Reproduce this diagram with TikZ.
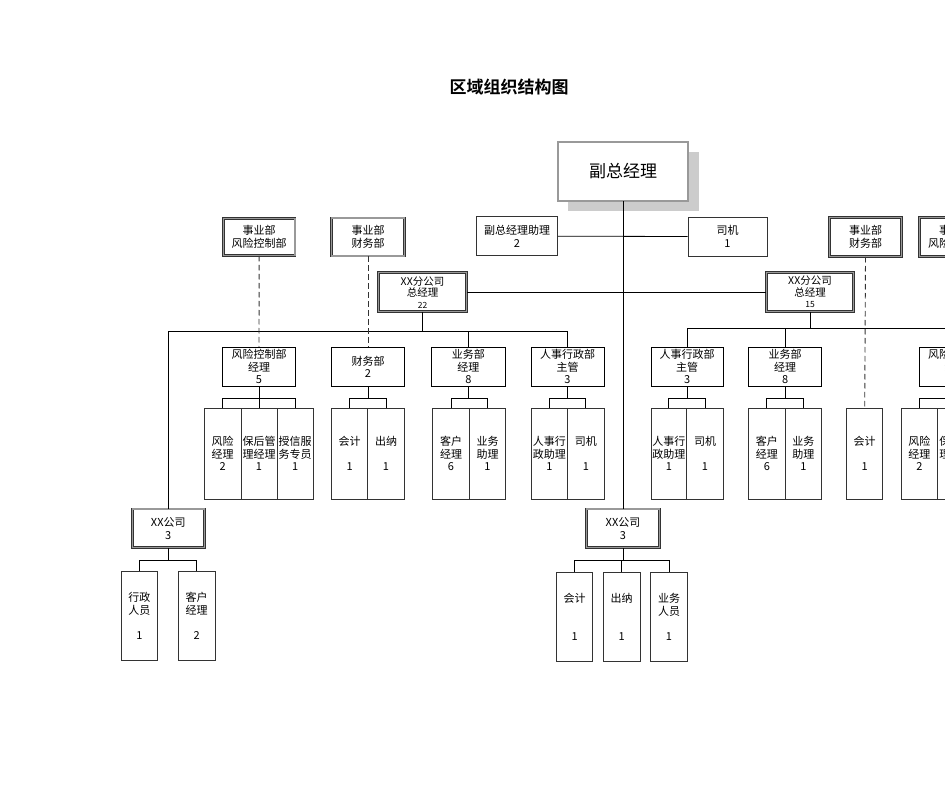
\documentclass[tikz,border=0pt]{standalone}
\usepackage{fontspec}
\setmainfont{Noto Sans CJK SC}
\newfontfamily\titlefont{Noto Sans CJK SC Bold}
\newcommand\mybox[7]{\node[#1, minimum width={#5-#3}, minimum height={#6-#4}] (#2) at ({(#3+#5)/2},{(#4+#6)/2}) {#7};}
\newcommand\mybracket[5]{% parent, first child, last child, middle child (or none), y
  \draw[conn] (#1.south) -- (#1.south |- 0,#5);
  \draw[conn] (#2.north) |- (#3.north |- 0,#5) -- (#3.north);
  \ifx\relax#4\relax\else\draw[conn] (#4.north) -- (#4.north |- 0,#5);\fi}
\tikzset{
 base/.style={fill=white, inner sep=0pt, align=center, font=\fontsize{11}{12.5}\selectfont},
 dbox/.style={base, draw=black!80, double=black!40, double distance=1.5pt, line width=0.6pt},
 sbox/.style={base, draw=black, line width=0.7pt},
 tbox/.style={base, draw=black!80, line width=1pt},
 abox/.style={base, draw=black!80, line width=0.9pt},
 conn/.style={draw=black, line width=0.8pt},
 dconn/.style={draw=black!80, line width=0.9pt, dash pattern=on 5.5pt off 3.5pt},
}
\begin{document}
\begin{tikzpicture}[x=1pt,y=-1pt]
\useasboundingbox (0,0) rectangle (945,794);
\clip (0,0) rectangle (945,794);
\fill[white] (0,0) rectangle (945,794);
% title
\node[font=\titlefont\fontsize{17}{20}\selectfont] (title) at (509,87) {区域组织结构图};
% main
\fill[black!20] (567.7,151.7) rectangle (699.3,210.7);
\mybox{dbox,font=\fontsize{17}{20}\selectfont}{vp}{558}{142}{688}{201}{副总经理}
\mybox{abox}{asst}{476.7}{216.7}{557.3}{255.7}{副总经理助理\\2}
\mybox{abox}{drv}{688}{217}{767}{256}{司机\\1}
% business dept boxes
\mybox{dbox}{syL1}{223.3}{218.3}{295}{255.7}{事业部\\风险控制部}
\mybox{dbox}{syL2}{331.7}{218}{404.3}{256}{事业部\\财务部}
\mybox{dbox}{syR1}{829.3}{217.3}{901.7}{256.7}{事业部\\财务部}
\mybox{dbox}{syR2}{919.3}{217.3}{992}{256.7}{事业部\\风险控制部}
% branches
\mybox{dbox,font=\fontsize{10.5}{11.5}\selectfont}{brL}{378.3}{272.7}{466.7}{311.7}{XX分公司\\总经理\\{\fontsize{8.5}{10}\selectfont 22}}
\mybox{dbox,font=\fontsize{10.5}{11.5}\selectfont}{brR}{766.7}{272.7}{853.3}{311.7}{XX分公司\\总经理\\{\fontsize{8.5}{10}\selectfont 15}}
% level 3
\mybox{sbox}{riskL}{222.7}{347.3}{295.3}{386}{风险控制部\\经理\\5}
\mybox{sbox}{finL}{331.7}{347.3}{404.3}{386}{财务部\\2}
\mybox{sbox}{salesL}{431.7}{347.3}{505}{386}{业务部\\经理\\8}
\mybox{sbox}{hrL}{531}{347.3}{604}{386}{人事行政部\\主管\\3}
\mybox{sbox}{hrR}{651}{347.3}{723.3}{386}{人事行政部\\主管\\3}
\mybox{sbox}{salesR}{748.7}{347.3}{821.7}{386}{业务部\\经理\\8}
\mybox{sbox}{riskR}{919.3}{347.3}{992}{386}{风险控制部\\经理\\5}
% level 4
\mybox{tbox}{a1}{204.3}{408.3}{241}{499.3}{风险\\经理\\2}
\mybox{tbox}{a2}{241}{408.3}{277}{499.3}{保后管\\理经理\\1}
\mybox{tbox}{a3}{277}{408.3}{313.3}{499.3}{授信服\\务专员\\1}
\mybox{tbox}{b1}{331.7}{408.3}{367.7}{499.3}{会计\\\mbox{}\\1}
\mybox{tbox}{b2}{367.7}{408.3}{404.3}{499.3}{出纳\\\mbox{}\\1}
\mybox{tbox}{c1}{432.7}{408.3}{469.3}{499.3}{客户\\经理\\6}
\mybox{tbox}{c2}{469.3}{408.3}{505.7}{499.3}{业务\\助理\\1}
\mybox{tbox}{d1}{531}{408.3}{567.7}{499.3}{人事行\\政助理\\1}
\mybox{tbox}{d2}{567.7}{408.3}{604}{499.3}{司机\\\mbox{}\\1}
\mybox{tbox}{e1}{651}{408.3}{686.7}{499.3}{人事行\\政助理\\1}
\mybox{tbox}{e2}{686.7}{408.3}{723.3}{499.3}{司机\\\mbox{}\\1}
\mybox{tbox}{f1}{748.7}{408.3}{785}{499.3}{客户\\经理\\6}
\mybox{tbox}{f2}{785}{408.3}{821.7}{499.3}{业务\\助理\\1}
\mybox{tbox}{g1}{846.7}{408.3}{882.7}{499.3}{会计\\\mbox{}\\1}
\mybox{tbox}{h1}{901}{408.3}{937.7}{499.3}{风险\\经理\\2}
\mybox{tbox}{h2}{937.7}{408.3}{974}{499.3}{保后管\\理经理\\1}
\mybox{tbox}{h3}{974}{408.3}{1010.3}{499.3}{授信服\\务专员\\1}
% bottom companies
\mybox{dbox}{xxL}{132.3}{509}{204.3}{547.7}{XX公司\\3}
\mybox{dbox}{xxM}{586.7}{509}{659.3}{547.7}{XX公司\\3}
\mybox{tbox}{m1}{121}{571.5}{157.7}{660}{行政\\人员\\\mbox{}\\1}
\mybox{tbox}{m2}{178.3}{571.5}{215}{660}{客户\\经理\\\mbox{}\\2}
\mybox{tbox}{n1}{556.7}{572.7}{592.7}{661.3}{会计\\\mbox{}\\\mbox{}\\1}
\mybox{tbox}{n2}{603.3}{572.7}{640}{661.3}{出纳\\\mbox{}\\\mbox{}\\1}
\mybox{tbox}{n3}{650.7}{572.7}{687.3}{661.3}{业务\\人员\\\mbox{}\\1}
% connectors
\coordinate (busL) at (0,331);
\coordinate (busR) at (0,328.3);
\coordinate (busRend) at (1000,328.3);
\draw[conn] (vp.south) -- (vp.south |- xxM.north);
\draw[conn] (asst.east) -- (drv.west);
\draw[conn] (brL.east) -- (brR.west);
\draw[conn] (brL.south) -- (brL.south |- busL);
\draw[conn] (xxL.north) |- (hrL.north |- busL) -- (hrL.north);
\draw[conn] (salesL.north) -- (salesL.north |- busL);
\draw[conn] (brR.south) -- (brR.south |- busR);
\draw[conn] (hrR.north) |- (busRend);
\draw[conn] (salesR.north) -- (salesR.north |- busR);
\draw[dconn] (syL1.south) -- (riskL.north);
\draw[dconn] (syL2.south) -- (finL.north);
\draw[dconn] (syR1.south) -- (g1.north);
\draw[dconn] (syR2.south) -- (riskR.north);
\mybracket{riskL}{a1}{a3}{a2}{398.3}
\mybracket{finL}{b1}{b2}{}{398.3}
\mybracket{salesL}{c1}{c2}{}{398.3}
\mybracket{hrL}{d1}{d2}{}{398.3}
\mybracket{hrR}{e1}{e2}{}{398.3}
\mybracket{salesR}{f1}{f2}{}{398.3}
\mybracket{riskR}{h1}{h3}{h2}{398.3}
\mybracket{xxL}{m1}{m2}{}{560}
\mybracket{xxM}{n1}{n3}{n2}{560}
\end{tikzpicture}
\end{document}
